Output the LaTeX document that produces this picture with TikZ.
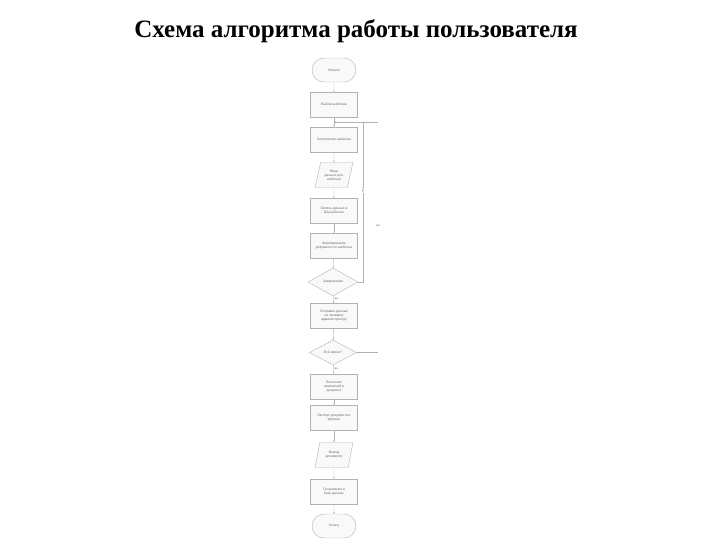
\documentclass[tikz,border=0pt]{standalone}
\usepackage{fontspec}
\setmainfont{Liberation Serif}
\newfontfamily\chartfont{Liberation Sans}
\usetikzlibrary{shapes.geometric,shapes.misc,arrows.meta}
\begin{document}
\begin{tikzpicture}[x=1pt,y=-1pt,
  base/.style={draw=gray!60,line width=0.4pt,fill=gray!5,font=\chartfont\fontsize{3.4}{4}\selectfont,text=gray!85!black,align=center,inner sep=0.5pt},
  procbox/.style={base,rectangle,minimum width=47pt,minimum height=25pt},
  termbox/.style={base,rounded rectangle,minimum width=45pt,minimum height=24pt},
  iobox/.style={base,trapezium,trapezium left angle=70,trapezium right angle=110,minimum width=38pt,minimum height=25pt,trapezium stretches=true},
  decbox/.style={base,diamond,aspect=1.9,minimum width=50pt,minimum height=28pt,inner sep=0pt},
  flow/.style={draw=gray!60,line width=0.4pt,-{Stealth[length=2pt,width=1.6pt]}},
  plain/.style={draw=gray!60,line width=0.4pt},
  lbl/.style={font=\chartfont\fontsize{2.8}{3.2}\selectfont,text=gray!75!black,inner sep=0.5pt}]
\useasboundingbox (0,0) rectangle (720,540);
\node[font=\bfseries\fontsize{25}{28}\selectfont] (title) at (356,31) {Схема алгоритма работы пользователя};
\node[termbox] (n1) at (334,70) {Начало};
\node[procbox] (n2) at (334,105) {Выбор шаблона};
\node[procbox] (n3) at (334,139.5) {Заполнение шаблона};
\node[iobox] (n4) at (334,175) {Ввод\\данных для\\шаблона};
\node[procbox] (n5) at (334,211) {Запись данных в\\БД шаблона};
\node[procbox] (n6) at (334,246) {Формирование\\документа из шаблона};
\node[decbox] (n7) at (333,282) {Завершение};
\node[procbox] (n8) at (334,316) {Отправка данных\\на проверку\\администратору};
\node[decbox,minimum width=47pt,minimum height=25pt] (n9) at (333,352.5) {Всё верно?};
\node[procbox] (n10) at (334,386.5) {Внесение\\изменений в\\документ};
\node[procbox] (n11) at (334,418) {Экспорт документа в\\формат};
\node[iobox] (n12) at (334,455) {Вывод\\документа};
\node[procbox] (n13) at (334,491.5) {Сохранение в\\базе данных};
\node[termbox] (n14) at (334,526) {Конец};
\coordinate (j1) at (334,122);
\coordinate (c1) at (363,282);
\coordinate (c2) at (363,122);
\coordinate (s1) at (378,122);
\coordinate (s2) at (378,352.5);
\draw[flow] (n1) -- (n2);
\draw[plain] (n2) -- (j1);
\draw[flow] (j1) -- (n3);
\draw[flow] (n3) -- (n4);
\draw[flow] (n4) -- (n5);
\draw[flow] (n5) -- (n6);
\draw[flow] (n6) -- (n7);
\draw[flow] (n7) -- node[lbl,right=0.5pt,pos=0.45] {да} (n8);
\draw[flow] (n8) -- (n9);
\draw[flow] (n9) -- node[lbl,right=0.5pt,pos=0.45] {да} (n10);
\draw[flow] (n10) -- (n11);
\draw[flow] (n11) -- (n12);
\draw[flow] (n12) -- (n13);
\draw[flow] (n13) -- (n14);
\draw[flow] (n7.east) -- (c1) -- node[lbl,rotate=90,fill=white,pos=0.57] {нет} (c2) -- (j1);
\draw[plain] (s1) -- (c2);
\draw[plain] (n9.east) -- (s2);
\node[lbl] (nolbl) at (378,226) {нет};
\end{tikzpicture}
\end{document}
